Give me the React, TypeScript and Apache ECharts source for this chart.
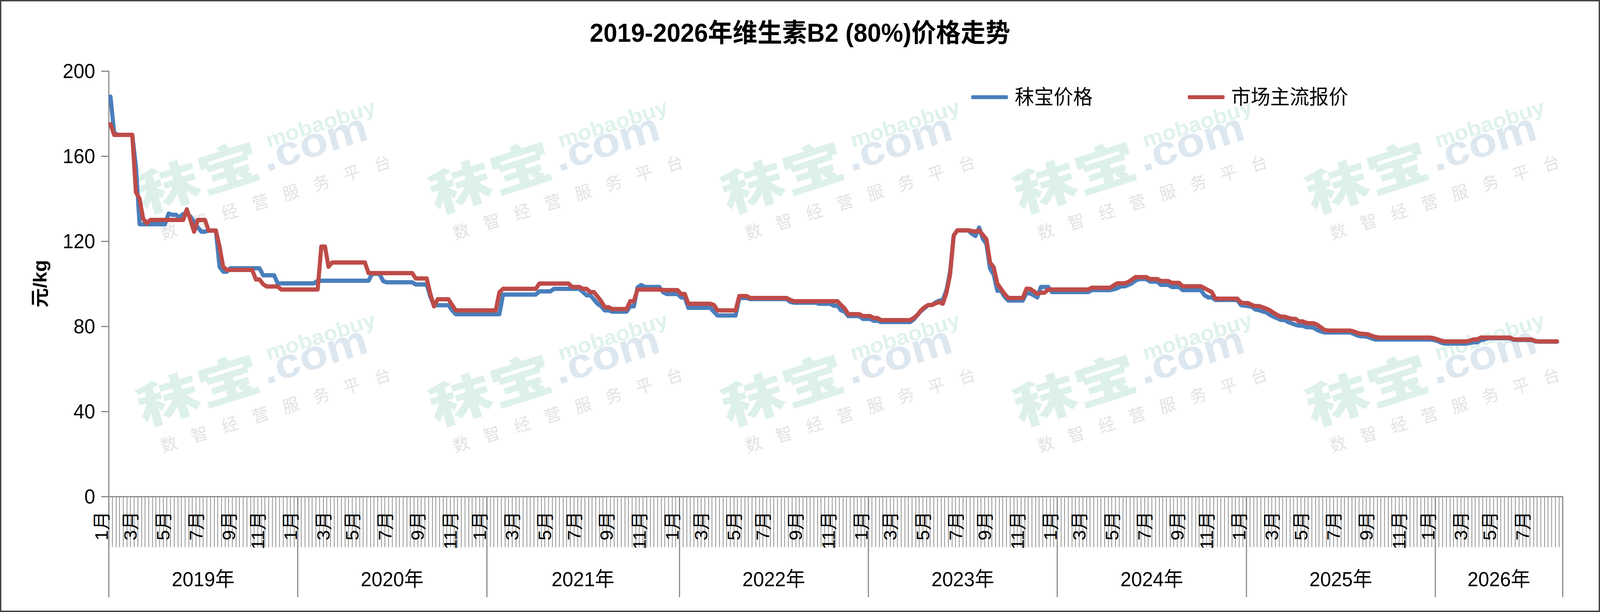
import React, { useEffect, useRef } from "react";
import * as echarts from "echarts";

const TITLE = "2019-2026年维生素B2 (80%)价格走势";
const SERIES_NAMES = ["秣宝价格", "市场主流报价"];
const SERIES_COLORS = ["#4A7EBB", "#BE4B48"];
const Y_AXIS_NAME = "元/kg";
const Y_MIN = 0;
const Y_MAX = 200;
const Y_INTERVAL = 40;
const FIRST_WEEK = "2019-01-04"; // weekly (Friday) categories
const WEEK_COUNT = 400;
const LABEL_MONTHS = [1, 3, 5, 7, 9, 11];

// weekly prices as runs: [value, number of consecutive weeks]
const mobaoRuns: [number, number][] = [
  [188, 1], [171, 1], [170, 5], [155, 1], [128, 8], [133, 1], [132.4, 2], [131.2, 1], [132.8, 2], [131.6, 1],
  [129, 1], [126.5, 1], [124.5, 2], [125, 3], [108, 1], [105.7, 2], [107.3, 9], [104, 4], [100.2, 11],
  [101.4, 15], [104.7, 3], [101.3, 1], [100.7, 8], [99.7, 4], [93.9, 1], [89.9, 5], [87.5, 1], [85.7, 13],
  [94.9, 10], [96.4, 4], [97.6, 8], [96.1, 1], [94.6, 2], [92.6, 1], [90.6, 1], [89.4, 1], [87.5, 2],
  [86.9, 5], [89.4, 2], [98.2, 1], [99.4, 1], [98.5, 5], [96.1, 1], [95.2, 4], [93.6, 2], [88.7, 7],
  [86.9, 1], [85.1, 6], [93.3, 3], [92.8, 11], [91.5, 1], [91.1, 7], [90.6, 4], [89.7, 2], [87.5, 1],
  [86.9, 1], [84.8, 4], [83.5, 3], [82.6, 2], [82, 9], [83.2, 1], [85.3, 1], [87.2, 1], [88.6, 1], [90, 2],
  [91.2, 1], [92, 1], [92.4, 1], [97, 1], [105.6, 1], [122.7, 1], [125.1, 4], [123.5, 1], [122.5, 1],
  [126.4, 1], [121.2, 1], [118.7, 1], [107.1, 1], [104.3, 1], [96.7, 2], [93.9, 1], [92.1, 5], [95.5, 2],
  [94.6, 1], [93.6, 1], [98.5, 3], [96.1, 11], [97, 6], [97.4, 1], [97.9, 1], [98.8, 2], [99.4, 1],
  [100.2, 1], [101.5, 1], [102.2, 3], [101, 3], [99.5, 3], [98.5, 3], [97, 6], [94.6, 1], [93.6, 2],
  [92.4, 7], [90, 1], [89.7, 1], [89.5, 1], [89.2, 1], [87.9, 1], [87.6, 1], [87, 1], [86.6, 1], [85.4, 1],
  [84.5, 1], [83.8, 1], [83, 2], [82, 1], [81.4, 1], [80.7, 1], [80.3, 2], [79.6, 2], [79.3, 1], [78.3, 1],
  [77.6, 1], [77.1, 8], [76.5, 1], [75.7, 1], [75.3, 2], [75, 1], [74.3, 1], [73.8, 16], [73.6, 1],
  [73.2, 1], [72.4, 1], [71.9, 7], [72.2, 1], [72.5, 2], [73.5, 1], [73.8, 1], [74.4, 7], [73.7, 1],
  [73.6, 5], [72.9, 1], [72.8, 6],
];

const marketRuns: [number, number][] = [
  [175, 1], [170, 6], [143, 1], [140, 1], [130.5, 1], [128.5, 1], [130, 10], [135, 1], [130, 1], [124.5, 1],
  [130, 3], [125, 3], [117.5, 1], [108, 1], [106.5, 8], [102, 2], [99.8, 1], [98.7, 4], [97.3, 11],
  [117.5, 2], [108, 1], [110, 10], [105, 13], [102.5, 4], [95.2, 1], [89.4, 1], [92.7, 4], [90, 1],
  [87.5, 12], [96, 1], [97.6, 10], [100.1, 9], [98.5, 3], [97.6, 2], [96.1, 2], [94, 1], [91.8, 1], [89, 2],
  [88.1, 5], [91.8, 2], [97.3, 7], [97, 5], [95.2, 2], [90.6, 7], [90, 1], [87.5, 6], [94.2, 3], [93.3, 11],
  [92.4, 1], [91.8, 13], [90, 1], [88.4, 1], [85.7, 4], [84.8, 3], [83.9, 2], [82.9, 9], [83.9, 1],
  [85.3, 1], [87.5, 1], [89, 1], [90, 2], [90.8, 1], [91.4, 1], [90.6, 1], [95.8, 1], [104.3, 1],
  [122.7, 1], [125.1, 4], [124.8, 1], [124.5, 1], [125.1, 1], [123, 1], [120.9, 1], [110, 1], [107.7, 1],
  [100.1, 1], [97.6, 1], [95.2, 1], [93.3, 5], [97.6, 2], [96.5, 1], [95.2, 1], [95.8, 2], [97.3, 12],
  [98.1, 6], [99.2, 1], [100.2, 3], [100.8, 1], [101.9, 1], [103.1, 4], [102.2, 3], [101.3, 3], [100.4, 3],
  [98.8, 6], [97.9, 1], [97, 1], [96.1, 1], [93, 7], [91.2, 1], [90.9, 2], [90, 1], [89.5, 2], [88.9, 1],
  [88.3, 1], [87.5, 1], [86.3, 1], [85.3, 1], [84.5, 2], [84, 1], [83.5, 2], [82.3, 2], [81.6, 1],
  [81.4, 2], [80.7, 1], [79.5, 1], [78.3, 1], [78, 7], [77.6, 1], [76.9, 1], [76.5, 1], [76.4, 1],
  [76.2, 1], [75.5, 1], [75, 1], [74.7, 15], [74.4, 1], [73.9, 1], [73.3, 1], [72.9, 7], [73.2, 1],
  [73.8, 2], [74.7, 9], [73.9, 1], [73.8, 5], [73.1, 1], [72.9, 6],
];

// watermark anchors (design pixels)
const WATERMARK_X = [385, 1165, 1945, 2725, 3505];
const WATERMARK_Y = [555, 1100];
const WATERMARK_SUB = ["数", "智", "经", "营", "服", "务", "平", "台"];

const DESIGN_W = 4270;
const DESIGN_H = 1568;
const FONT = "'Liberation Sans', Arial, 'Noto Sans CJK SC', sans-serif";

function expandRuns(runs: [number, number][]): number[] {
  const out: number[] = [];
  runs.forEach(([v, n]) => {
    for (let i = 0; i < n; i++) out.push(v);
  });
  return out;
}

function buildWeeks() {
  const [y, m, d] = FIRST_WEEK.split("-").map(Number);
  const base = Date.UTC(y, m - 1, d);
  const weeks: { key: string; year: number; month: number }[] = [];
  for (let i = 0; i < WEEK_COUNT; i++) {
    const t = new Date(base + i * 7 * 86400000);
    const yy = t.getUTCFullYear();
    const mm = t.getUTCMonth() + 1;
    const dd = t.getUTCDate();
    weeks.push({
      key: `${yy}-${String(mm).padStart(2, "0")}-${String(dd).padStart(2, "0")}`,
      year: yy,
      month: mm,
    });
  }
  return weeks;
}

function watermark(x: number, y: number) {
  const children: any[] = [
    {
      type: "text",
      x: 0,
      y: 0,
      scaleY: 0.74,
      style: {
        text: "秣宝",
        fill: "#ddf1ea",
        font: `900 168px 'Noto Sans CJK SC', sans-serif`,
        textAlign: "left",
        textVerticalAlign: "bottom",
      },
    },
    {
      type: "text",
      x: 345,
      y: 2,
      scaleY: 0.85,
      style: {
        text: ".com",
        fill: "#dde7f0",
        font: `bold 124px 'Liberation Sans', Arial, sans-serif`,
        textAlign: "left",
        textVerticalAlign: "bottom",
      },
    },
    {
      type: "text",
      x: 368,
      y: -64,
      scaleY: 0.9,
      style: {
        text: "mobaobuy",
        fill: "#dff2ec",
        font: `bold 60px 'Liberation Sans', Arial, sans-serif`,
        textAlign: "left",
        textVerticalAlign: "bottom",
      },
    },
    ...WATERMARK_SUB.map((ch, k) => ({
      type: "text",
      x: 52 + 85 * k,
      y: 52,
      style: {
        text: ch,
        fill: "#e3e3e3",
        font: `44px 'Noto Sans CJK SC', sans-serif`,
        textAlign: "center",
        textVerticalAlign: "middle",
      },
    })),
  ];
  return {
    type: "group",
    x,
    y,
    rotation: (17 * Math.PI) / 180,
    silent: true,
    z: 0,
    children,
  };
}

export default function App() {
  const ref = useRef<HTMLDivElement>(null);

  useEffect(() => {
    document.body.style.margin = "0";
    document.body.style.overflow = "hidden";
    if (!ref.current) return;
    const chart = echarts.init(ref.current, undefined, { renderer: "svg" });

    const weeks = buildWeeks();
    const categories = weeks.map((w) => w.key);
    const monthStart = weeks.map(
      (w, i) => (i === 0 || weeks[i - 1].month !== w.month) && LABEL_MONTHS.includes(w.month)
    );
    const yearBounds: number[] = [0];
    const yearLabels: string[] = [`${weeks[0].year}年`];
    weeks.forEach((w, i) => {
      if (i > 0 && w.year !== weeks[i - 1].year) {
        yearBounds.push(i);
        yearLabels.push(`${w.year}年`);
      }
    });
    yearBounds.push(WEEK_COUNT);
    const yearMids = yearLabels.map((_, k) => (yearBounds[k] + yearBounds[k + 1]) / 2);

    const mobao = expandRuns(mobaoRuns);
    const market = expandRuns(marketRuns);

    const graphics: any[] = [];
    WATERMARK_Y.forEach((yy) => WATERMARK_X.forEach((xx) => graphics.push(watermark(xx, yy))));
    graphics.push({
      type: "rect",
      x: 0,
      y: 0,
      silent: true,
      z: 100,
      shape: { x: 0, y: 0, width: DESIGN_W, height: DESIGN_H },
      style: { fill: "none", stroke: "#404040", lineWidth: 7 },
    });

    const option: any = {
      animation: false,
      backgroundColor: "#ffffff",
      textStyle: { fontFamily: FONT, color: "#000" },
      title: {
        text: TITLE,
        left: "center",
        top: 46,
        textStyle: { fontSize: 66, fontWeight: "bold", color: "#000", fontFamily: FONT },
      },
      legend: {
        data: SERIES_NAMES,
        left: 2587,
        top: 214,
        icon: "roundRect",
        itemWidth: 98,
        itemHeight: 10,
        itemGap: 254,
        textStyle: { fontSize: 52, color: "#000", fontFamily: FONT, padding: [0, 0, 0, 13], lineHeight: 60 },
      },
      grid: { left: 290, right: 100, top: 182, bottom: 296, containLabel: false },
      xAxis: [
        {
          type: "category",
          position: "bottom",
          data: categories,
          boundaryGap: true,
          axisLine: { onZero: false, lineStyle: { color: "#888888", width: 3 } },
          axisTick: { show: true, interval: 0, length: 130, lineStyle: { color: "#8c8c8c", width: 2 } },
          axisLabel: {
            interval: (i: number) => monthStart[i],
            formatter: (v: string) => `${Number(v.slice(5, 7))}月`,
            rotate: 90,
            margin: 38,
            fontSize: 48,
            color: "#000",
            fontFamily: FONT,
            verticalAlign: "bottom",
          },
          splitLine: { show: false },
        },
        {
          type: "value",
          position: "bottom",
          min: 0,
          max: WEEK_COUNT,
          axisLine: { show: false, onZero: false },
          axisTick: {
            show: true,
            customValues: yearBounds,
            length: 258,
            lineStyle: { color: "#888888", width: 3 },
          },
          axisLabel: {
            customValues: yearMids,
            formatter: (v: number) => {
              const k = yearMids.indexOf(v);
              return k >= 0 ? yearLabels[k] : "";
            },
            margin: 186,
            fontSize: 52,
            color: "#000",
            fontFamily: FONT,
          },
          splitLine: { show: false },
        },
      ],
      yAxis: {
        type: "value",
        min: Y_MIN,
        max: Y_MAX,
        interval: Y_INTERVAL,
        name: Y_AXIS_NAME,
        nameLocation: "middle",
        nameGap: 158,
        nameTextStyle: { fontSize: 50, fontWeight: "bold", color: "#000", fontFamily: FONT },
        axisLine: { show: true, onZero: false, lineStyle: { color: "#888888", width: 3 } },
        axisTick: { show: true, length: 20, lineStyle: { color: "#888888", width: 3 } },
        axisLabel: { fontSize: 52, color: "#000", margin: 36, fontFamily: FONT },
        splitLine: { show: false },
      },
      series: [
        {
          name: SERIES_NAMES[0],
          type: "line",
          data: mobao,
          symbol: "none",
          showSymbol: false,
          z: 3,
          itemStyle: { color: SERIES_COLORS[0] },
          lineStyle: { color: SERIES_COLORS[0], width: 11, cap: "round", join: "round" },
        },
        {
          name: SERIES_NAMES[1],
          type: "line",
          data: market,
          symbol: "none",
          showSymbol: false,
          z: 4,
          itemStyle: { color: SERIES_COLORS[1] },
          lineStyle: { color: SERIES_COLORS[1], width: 11, cap: "round", join: "round" },
        },
      ],
      graphic: graphics,
    };

    chart.setOption(option);
    return () => chart.dispose();
  }, []);

  const vw = typeof window !== "undefined" ? window.innerWidth : DESIGN_W;
  const vh = typeof window !== "undefined" ? window.innerHeight : DESIGN_H;
  const sx = vw / DESIGN_W;
  const sy = vh / DESIGN_H;

  return (
    <div
      ref={ref}
      style={{
        position: "fixed",
        left: 0,
        top: 0,
        width: DESIGN_W,
        height: DESIGN_H,
        background: "#fff",
        transformOrigin: "0 0",
        transform: `scale(${sx}, ${sy})`,
      }}
    />
  );
}
